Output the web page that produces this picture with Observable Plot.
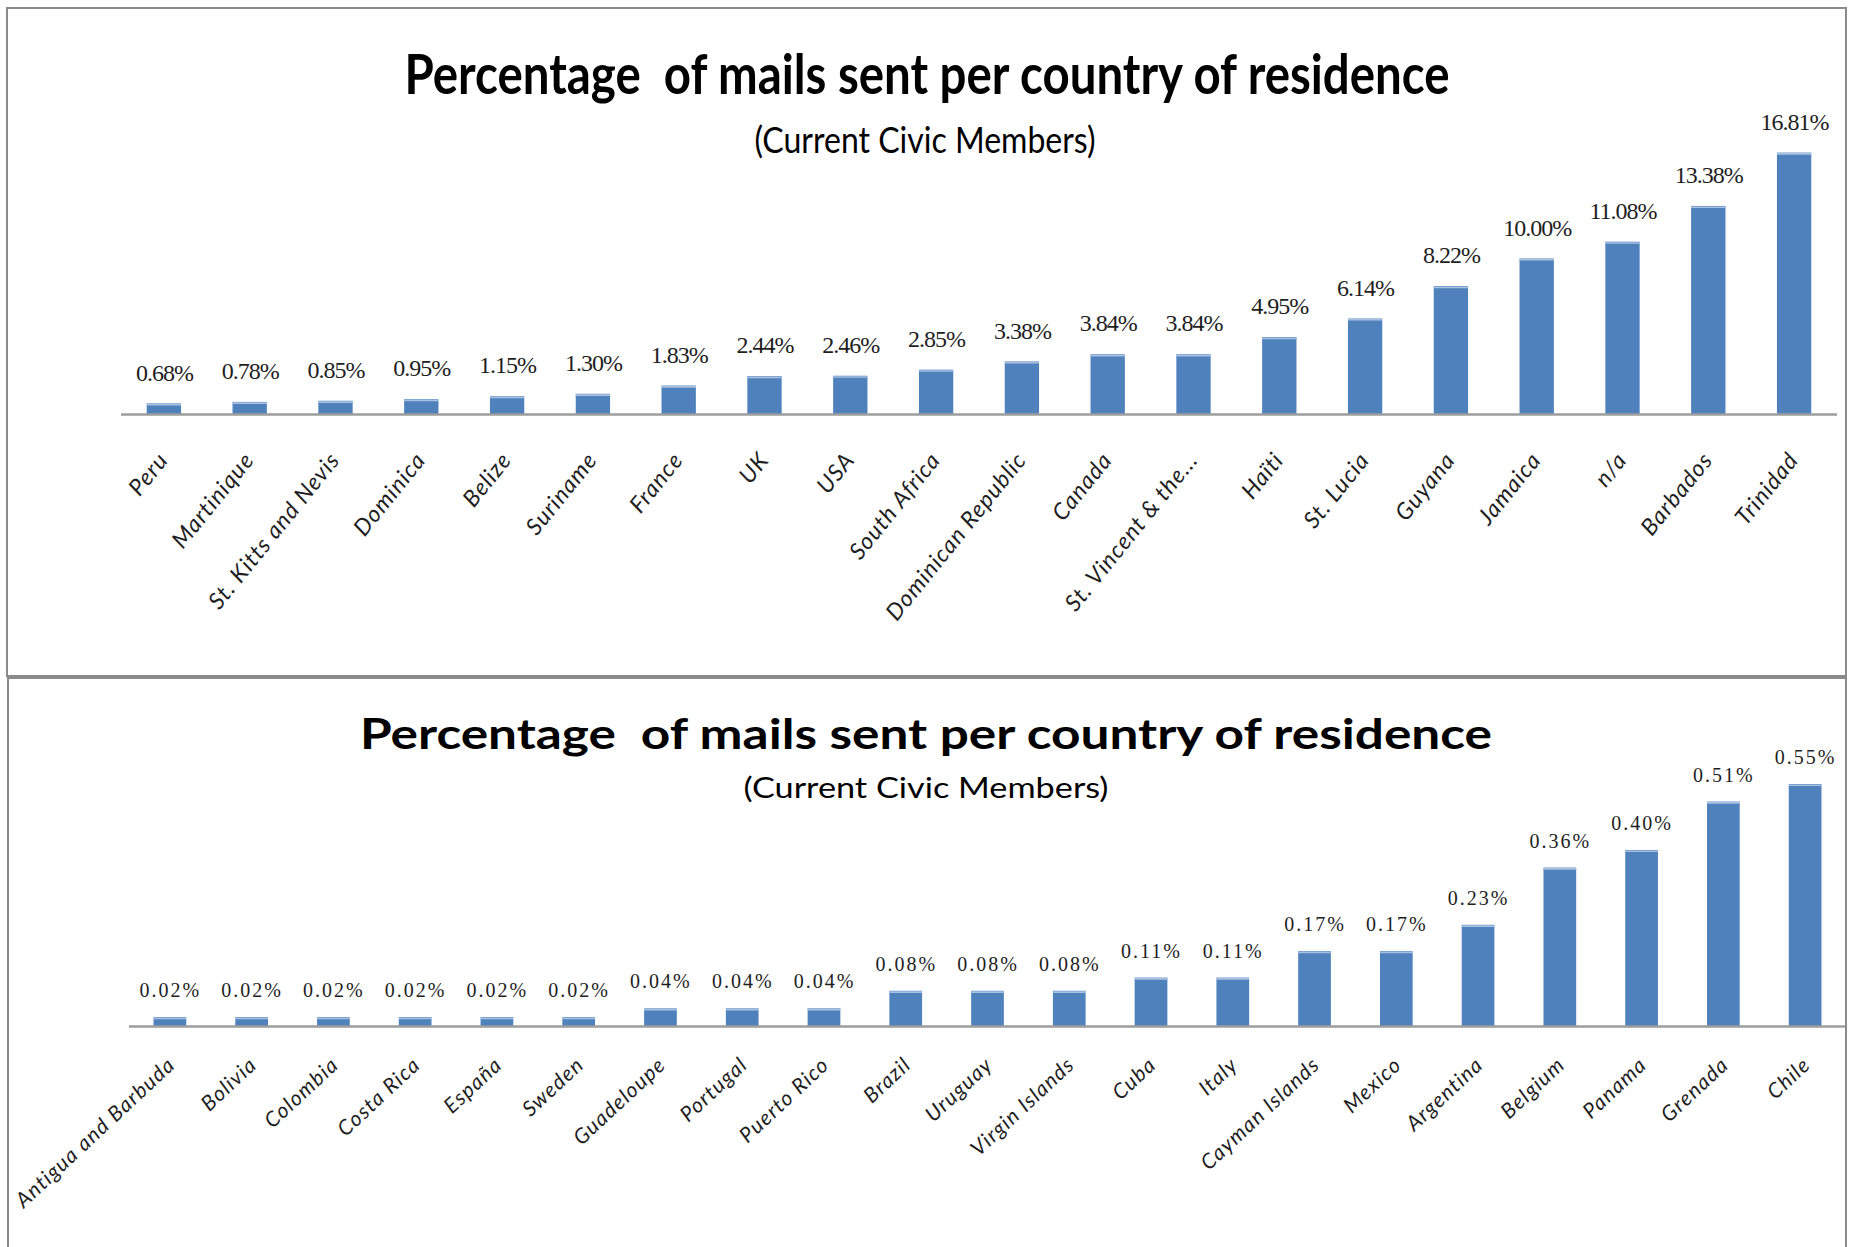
<!DOCTYPE html>
<html>
<head>
<meta charset="utf-8">
<script src="https://cdn.jsdelivr.net/npm/d3@7"></script>
<script src="https://cdn.jsdelivr.net/npm/@observablehq/plot@0.6"></script>
<style>
html,body{margin:0;padding:0;background:#fff;overflow:hidden;}
#page{position:relative;width:1849px;height:1247px;overflow:hidden;background:#fff;}
#page svg{position:absolute;left:0;background:transparent;max-width:none;}
.panel{position:absolute;border:2.5px solid #8a8a8a;box-sizing:border-box;pointer-events:none;z-index:5;}
.ttl{position:absolute;white-space:nowrap;font-family:Lato,"Open Sans",sans-serif;line-height:1;color:#000;transform-origin:50% 0;z-index:4;}
</style>
</head>
<body>
<div id="page"></div>
<script>
// ---- data: upper chart ----
const topCountries = ["Peru","Martinique","St. Kitts and Nevis","Dominica","Belize","Suriname","France","UK","USA","South Africa","Dominican Republic","Canada","St. Vincent & the...","Haïti","St. Lucia","Guyana","Jamaica","n/a","Barbados","Trinidad"];
const topValues = [0.68,0.78,0.85,0.95,1.15,1.30,1.83,2.44,2.46,2.85,3.38,3.84,3.84,4.95,6.14,8.22,10.00,11.08,13.38,16.81];

// ---- data: lower chart ----
const bottomCountries = ["Antigua and Barbuda","Bolivia","Colombia","Costa Rica","España","Sweden","Guadeloupe","Portugal","Puerto Rico","Brazil","Uruguay","Virgin Islands","Cuba","Italy","Cayman Islands","Mexico","Argentina","Belgium","Panama","Grenada","Chile"];
const bottomValues = [0.02,0.02,0.02,0.02,0.02,0.02,0.04,0.04,0.04,0.08,0.08,0.08,0.11,0.11,0.17,0.17,0.23,0.36,0.40,0.51,0.55];

const chartTitle = "Percentage\u00a0 of mails sent per country of residence";
const chartSubtitle = "(Current Civic Members)";

const topData = topCountries.map((c,i)=>({country:c, value:topValues[i]}));
const bottomData = bottomCountries.map((c,i)=>({country:c, value:bottomValues[i]}));

const page = document.getElementById("page");
const BAR = "#4F81BD", HI = "#A9C2E2", AXIS = "#9d9d9d", LBL = "#1e1e1e";

function chart(data, {height, marginLeft, marginRight, marginTop, marginBottom, ymax, rot, ldx, ldy, vdy, vsize, lsize, vspace, lspace}) {
  const svg = Plot.plot({
    width: 1849, height, marginLeft, marginRight, marginTop, marginBottom,
    x: {domain: data.map(d=>d.country), paddingInner: 0.6, paddingOuter: 0.3, round: false, axis: null},
    y: {domain: [0, ymax], axis: null},
    marks: [
      Plot.barY(data, {x:"country", y:"value", fill: BAR}),
      Plot.tickY(data, {x:"country", y:"value", stroke: HI, strokeWidth: 1.6, dy: 0.8}),
      Plot.ruleY([0], {stroke: AXIS, strokeWidth: 2.5}),
      Plot.text(data, {x:"country", y:"value", text: d=>d.value.toFixed(2)+"%", dy: vdy,
        fontFamily:"Liberation Serif, Times New Roman, serif", fontSize: vsize, fill: LBL}),
      Plot.text(data, {x:"country", frameAnchor:"bottom", text:"country", rotate: rot, textAnchor:"end",
        dx: ldx, dy: ldy, fontFamily:"Lato, Open Sans, sans-serif", fontStyle:"italic", fontSize: lsize, fill: LBL})
    ]
  });
  const groups = svg.querySelectorAll('g[aria-label="text"]');
  if (groups[0]) groups[0].style.letterSpacing = vspace + "px";
  if (groups[1]) groups[1].style.letterSpacing = lspace + "px";
  return svg;
}

const s1 = chart(topData, {height: 676, marginLeft: 121, marginRight: 12, marginTop: 103, marginBottom: 262,
  ymax: 20, rot: -51, ldx: 5, ldy: 46, vdy: -31, vsize: 24, lsize: 23, vspace: -1, lspace: 1});
s1.style.top = "0px";
page.appendChild(s1);

const s2 = chart(bottomData, {height: 569, marginLeft: 129, marginRight: 3, marginTop: 84, marginBottom: 221,
  ymax: 0.6, rot: -43, ldx: 6, ldy: 40, vdy: -27, vsize: 20, lsize: 21, vspace: 2, lspace: 1.2});
s2.style.top = "678px";
page.appendChild(s2);

function addTitle(text, {cx, top, size, weight, targetW}) {
  const d = document.createElement("div");
  d.className = "ttl";
  d.textContent = text;
  d.style.fontSize = size + "px";
  d.style.fontWeight = weight;
  d.style.left = cx + "px";
  d.style.top = top + "px";
  page.appendChild(d);
  const w = d.getBoundingClientRect().width;
  d.style.transform = `translateX(-50%) scaleX(${targetW / w})`;
}
addTitle(chartTitle, {cx: 927, top: 45, size: 56, weight: 700, targetW: 1045});
addTitle(chartSubtitle, {cx: 925, top: 121, size: 36, weight: 400, targetW: 341});
addTitle(chartTitle, {cx: 926, top: 712, size: 42, weight: 700, targetW: 1132});
addTitle(chartSubtitle, {cx: 926, top: 773, size: 28, weight: 400, targetW: 365});

function panel(l, t, w, h) {
  const p = document.createElement("div");
  p.className = "panel";
  Object.assign(p.style, {left: l+"px", top: t+"px", width: w+"px", height: h+"px"});
  page.appendChild(p);
}
panel(6, 7, 1841, 670);
panel(7, 677, 1840, 620);
</script>
</body>
</html>
